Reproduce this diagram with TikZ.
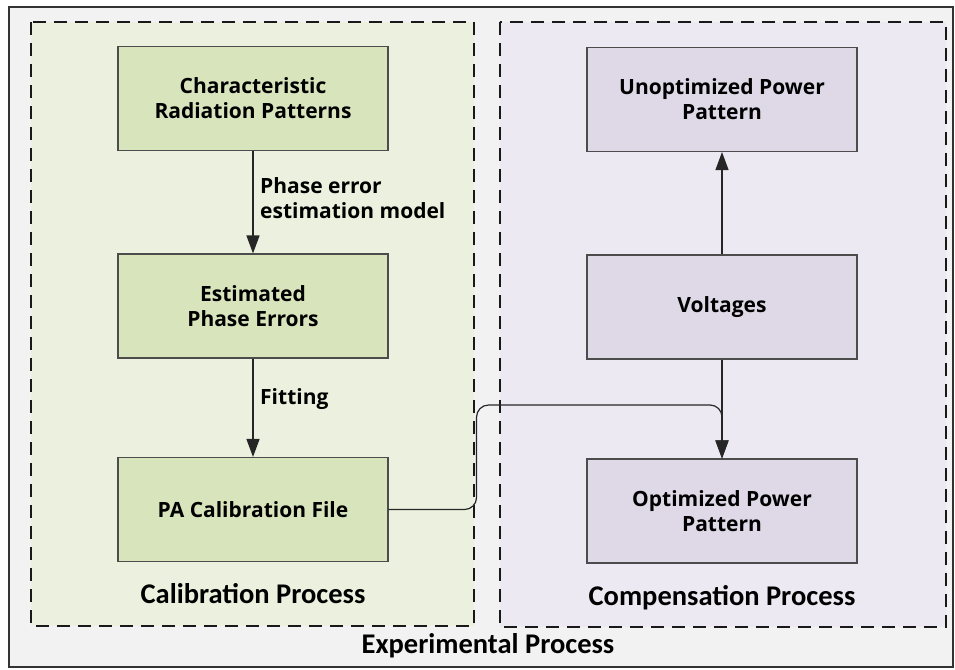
\documentclass[tikz,border=0pt]{standalone}
\usepackage{fontspec}
\setmainfont{Open Sans}
\newfontfamily\titlefont{Carlito}
\usetikzlibrary{arrows.meta}

\definecolor{calbg}{HTML}{EBF1DE}
\definecolor{calbox}{HTML}{D8E4BC}
\definecolor{cmpbg}{HTML}{ECE9F2}
\definecolor{cmpbox}{HTML}{DED8E7}
\definecolor{outerbg}{HTML}{F2F2F2}

\begin{document}
\begin{tikzpicture}
[x=1pt, y=-1pt,
 procbox/.style={rectangle, draw=black!70, line width=1.1pt, minimum width=270pt, minimum height=104pt, align=center, font=\fontsize{21}{25}\selectfont\bfseries, inner sep=0pt},
 region/.style={draw=black!90, line width=2.4pt, dash pattern=on 13pt off 8pt},
 flow/.style={line width=1.2pt, draw=black!85, -{Triangle[length=18pt, width=13pt]}},
 note/.style={align=left, anchor=west, font=\fontsize{21}{25}\selectfont\bfseries, inner sep=0pt},
 title/.style={font=\titlefont\fontsize{28.5}{30}\selectfont\bfseries, inner sep=0pt}]
\useasboundingbox (0,0) rectangle (955,669);
\fill[white] (0,0) rectangle (955,669);
\draw[fill=outerbg, line width=1.8pt, draw=black!80] (9,7) rectangle (953,667);
\fill[calbg] (31,22) rectangle (474,626);
\fill[cmpbg] (500,22) rectangle (946,627);
\draw[region] (31,22) rectangle (474,626);
\draw[region] (500,22) rectangle (946,627);
% calibration side
\node (crp) [procbox, fill=calbox] at (253,98.5) {Characteristic\\Radiation Patterns};
\node (epe) [procbox, fill=calbox] at (253,306) {Estimated\\Phase Errors};
\node (pac) [procbox, fill=calbox] at (253,509.5) {PA Calibration File};
% compensation side
\node (upp) [procbox, fill=cmpbox] at (722,99.5) {Unoptimized Power\\Pattern};
\node (vol) [procbox, fill=cmpbox] at (722,307) {Voltages};
\node (opp) [procbox, fill=cmpbox] at (722,511) {Optimized Power\\Pattern};
\node (lbl1) [note] at (260,198) {Phase error\\estimation model};
\node (lbl2) [note] at (260,399) {Fitting};
\node (cal) [title] at (253,594) {Calibration Process};
\node (cmp) [title] at (722,598) {Compensation Process};
\node (exp) [title] at (488,646) {Experimental Process};
\draw [flow] (crp) to (epe);
\draw [flow] (epe) to (pac);
\draw [flow] (vol) to (upp);
\draw [flow] (vol) to (opp);
\draw [flow, rounded corners=12pt] (pac.east) -- ++(88,0) |- (opp.north |- 0,405) -- (opp.north);
\end{tikzpicture}
\end{document}
